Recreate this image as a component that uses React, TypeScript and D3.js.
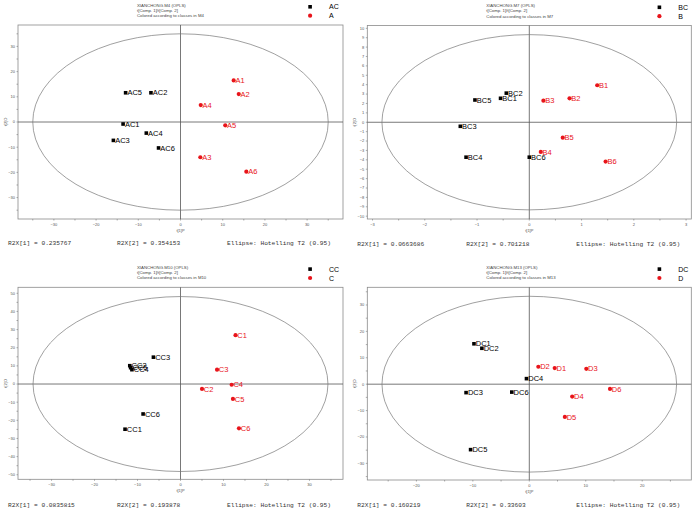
import React from 'react';
import * as d3 from 'd3';

type Pt = { id: string; t1: number; t2: number };

// scores
const m4Control: Pt[] = [
  { id: 'AC1', t1: -13.6, t2: -0.8 },
  { id: 'AC2', t1: -7.0, t2: 11.6 },
  { id: 'AC3', t1: -15.9, t2: -7.3 },
  { id: 'AC4', t1: -8.1, t2: -4.4 },
  { id: 'AC5', t1: -13.0, t2: 11.6 },
  { id: 'AC6', t1: -5.2, t2: -10.3 },
];
const m4Treated: Pt[] = [
  { id: 'A1', t1: 12.6, t2: 16.5 },
  { id: 'A2', t1: 13.8, t2: 11.1 },
  { id: 'A3', t1: 4.7, t2: -14.0 },
  { id: 'A4', t1: 4.8, t2: 6.7 },
  { id: 'A5', t1: 10.6, t2: -1.3 },
  { id: 'A6', t1: 15.6, t2: -19.7 },
];
const m7Control: Pt[] = [
  { id: 'BC1', t1: -0.55, t2: 2.55 },
  { id: 'BC2', t1: -0.44, t2: 3.1 },
  { id: 'BC3', t1: -1.32, t2: -0.43 },
  { id: 'BC4', t1: -1.21, t2: -3.72 },
  { id: 'BC5', t1: -1.04, t2: 2.37 },
  { id: 'BC6', t1: 0.0, t2: -3.72 },
];
const m7Treated: Pt[] = [
  { id: 'B1', t1: 1.3, t2: 3.94 },
  { id: 'B2', t1: 0.77, t2: 2.55 },
  { id: 'B3', t1: 0.27, t2: 2.3 },
  { id: 'B4', t1: 0.22, t2: -3.16 },
  { id: 'B5', t1: 0.64, t2: -1.64 },
  { id: 'B6', t1: 1.46, t2: -4.19 },
];
const m10Control: Pt[] = [
  { id: 'CC1', t1: -12.9, t2: -24.9 },
  { id: 'CC2', t1: -11.8, t2: 10.1 },
  { id: 'CC3', t1: -6.3, t2: 14.8 },
  { id: 'CC4', t1: -11.3, t2: 7.9 },
  { id: 'CC5', t1: -11.6, t2: 9.0 },
  { id: 'CC6', t1: -8.7, t2: -16.5 },
];
const m10Treated: Pt[] = [
  { id: 'C1', t1: 12.8, t2: 26.9 },
  { id: 'C2', t1: 5.0, t2: -2.7 },
  { id: 'C3', t1: 8.5, t2: 7.9 },
  { id: 'C4', t1: 11.9, t2: -0.4 },
  { id: 'C5', t1: 12.2, t2: -8.2 },
  { id: 'C6', t1: 13.6, t2: -24.4 },
];
const m13Control: Pt[] = [
  { id: 'DC1', t1: -9.8, t2: 15.3 },
  { id: 'DC2', t1: -8.4, t2: 13.6 },
  { id: 'DC3', t1: -11.2, t2: -3.2 },
  { id: 'DC4', t1: -0.5, t2: 2.1 },
  { id: 'DC5', t1: -10.4, t2: -24.8 },
  { id: 'DC6', t1: -3.1, t2: -3.0 },
];
const m13Treated: Pt[] = [
  { id: 'D1', t1: 4.5, t2: 6.1 },
  { id: 'D2', t1: 1.6, t2: 6.6 },
  { id: 'D3', t1: 10.1, t2: 5.8 },
  { id: 'D4', t1: 7.6, t2: -4.7 },
  { id: 'D5', t1: 6.3, t2: -12.4 },
  { id: 'D6', t1: 14.3, t2: -1.8 },
];

const modelNames = ['M4', 'M7', 'M10', 'M13'];
const controlClasses = ['AC', 'BC', 'CC', 'DC'];
const treatedClasses = ['A', 'B', 'C', 'D'];
const r2x1 = ['0.235767', '0.0663686', '0.0835815', '0.160219'];
const r2x2 = ['0.354153', '0.701218', '0.193878', '0.33603'];
// Hotelling T2 (0.95) semi-axes
const ellipseT1 = [35, 2.82, 34.3, 26.1];
const ellipseT2 = [35, 9.33, 48.2, 33.3];
// axis ranges and tick steps
const xRanges: [number, number][] = [[-38.5, 38.5], [-3.1, 3.1], [-37.8, 37.8], [-28.7, 28.7]];
const yRanges: [number, number][] = [[-38.5, 38.5], [-10.3, 10.3], [-52.5, 53.3], [-36.3, 36.7]];
const xTickValues = [
  [-30, -20, -10, 0, 10, 20, 30],
  [-3, -2, -1, 0, 1, 2, 3],
  [-30, -20, -10, 0, 10, 20, 30],
  [-20, -10, 0, 10, 20],
];
const yTickValues = [
  [-30, -20, -10, 0, 10, 20, 30],
  [-10, -9, -8, -7, -6, -5, -4, -3, -2, -1, 0, 1, 2, 3, 4, 5, 6, 7, 8, 9, 10],
  [-50, -40, -30, -20, -10, 0, 10, 20, 30, 40, 50],
  [-30, -20, -10, 0, 10, 20, 30],
];
const controls = [m4Control, m7Control, m10Control, m13Control];
const treateds = [m4Treated, m7Treated, m10Treated, m13Treated];

const frames = [
  { left: 18, top: 25, w: 325, h: 194 },
  { left: 367.3, top: 25.5, w: 324, h: 193.5 },
  { left: 18, top: 287.3, w: 325, h: 192 },
  { left: 367.3, top: 287.3, w: 324, h: 192.7 },
];

const sans = "Liberation Sans, Arial, sans-serif";
const mono = "Liberation Mono, Courier New, monospace";

function minorTicks(major: number[], dom: [number, number]) {
  const step = major[1] - major[0];
  const out: number[] = [];
  for (const v of major) {
    out.push(v);
    out.push(v + step / 2);
    out.push(v - step / 2);
  }
  return Array.from(new Set(out.map((v) => +v.toFixed(4)))).filter((v) => v >= dom[0] && v <= dom[1]);
}

const Panel: React.FC<{ i: number }> = ({ i }) => {
  const f = frames[i];
  const x = d3.scaleLinear().domain(xRanges[i]).range([f.left, f.left + f.w]);
  const y = d3.scaleLinear().domain(yRanges[i]).range([f.top + f.h, f.top]);
  const x0 = x(0);
  const y0 = y(0);
  const rx = x(ellipseT1[i]) - x0;
  const ry = y0 - y(ellipseT2[i]);
  const xt = xTickValues[i];
  const yt = yTickValues[i];
  const xMinor = minorTicks(xt, xRanges[i]);
  const yMinor = i === 1 ? yt : minorTicks(yt, yRanges[i]);
  const bottom = f.top + f.h;
  const cx = f.left + f.w / 2;
  const fmt = d3.format('d');

  return (
    <g>
      {/* header */}
      <g fontFamily={sans} fontSize={4.3} fill="#444">
        <text x={f.left + 119} y={f.top - 18.5}>{`XIANCHONG.${modelNames[i]} (OPLS)`}</text>
        <text x={f.left + 119} y={f.top - 13.5}>t[Comp. 1]/t[Comp. 2]</text>
        <text x={f.left + 119} y={f.top - 8}>{`Colored according to classes in ${modelNames[i]}`}</text>
      </g>
      {/* legend */}
      <rect x={f.left + 290.3} y={f.top - 20} width={3.6} height={3.6} fill="#000" />
      <circle cx={f.left + 292.1} cy={f.top - 9.3} r={2.1} fill="#e8141b" />
      <g fontFamily={sans} fontSize={7} fill="#000">
        <text x={f.left + 311} y={f.top - 15.8}>{controlClasses[i]}</text>
        <text x={f.left + 311} y={f.top - 6.8}>{treatedClasses[i]}</text>
      </g>
      {/* frame */}
      <rect x={f.left} y={f.top} width={f.w} height={f.h} fill="none" stroke="#8a8a8a" strokeWidth={0.8} />
      <line x1={f.left} x2={f.left + f.w} y1={y0} y2={y0} stroke="#555" strokeWidth={0.8} />
      <line x1={x0} x2={x0} y1={f.top} y2={bottom} stroke="#555" strokeWidth={0.8} />
      {/* ticks */}
      {xMinor.map((v) => (
        <line key={`xm${v}`} x1={x(v)} x2={x(v)} y1={bottom} y2={bottom + 1.5} stroke="#777" strokeWidth={0.6} />
      ))}
      {yMinor.map((v) => (
        <line key={`ym${v}`} x1={f.left - 1.5} x2={f.left} y1={y(v)} y2={y(v)} stroke="#777" strokeWidth={0.6} />
      ))}
      <g fontFamily={sans} fontSize={4} fill="#555">
        {xt.map((v) => (
          <text key={`xl${v}`} x={x(v)} y={bottom + 6.5} textAnchor="middle">{fmt(v)}</text>
        ))}
        {yt.map((v) => (
          <text key={`yl${v}`} x={f.left - 3} y={y(v) + 1.4} textAnchor="end">{fmt(v)}</text>
        ))}
        <text x={cx} y={bottom + 12.5} textAnchor="middle">t[1]P</text>
        <text transform={`translate(${f.left - 11},${f.top + f.h / 2}) rotate(-90)`} textAnchor="middle">t[2]O</text>
      </g>
      {/* Hotelling ellipse */}
      <ellipse cx={x0} cy={y0} rx={rx} ry={ry} fill="none" stroke="#777" strokeWidth={0.7} />
      {/* control points */}
      {controls[i].map((p) => (
        <g key={p.id}>
          <rect x={x(p.t1) - 1.8} y={y(p.t2) - 1.8} width={3.6} height={3.6} fill="#000" />
          <text x={x(p.t1) + 1.8} y={y(p.t2) + 2.6} fontFamily={sans} fontSize={7.5} fill="#000">{p.id}</text>
        </g>
      ))}
      {/* treated points */}
      {treateds[i].map((p) => (
        <g key={p.id}>
          <circle cx={x(p.t1)} cy={y(p.t2)} r={2.1} fill="#e8141b" />
          <text x={x(p.t1) + 1.8} y={y(p.t2) + 2.6} fontFamily={sans} fontSize={7.5} fill="#e8141b">{p.id}</text>
        </g>
      ))}
      {/* footer */}
      <g fontFamily={mono} fontSize={6.2} fill="#333">
        <text x={f.left - 10} y={f.top + 220}>{`R2X[1] = ${r2x1[i]}`}</text>
        <text x={f.left + 99} y={f.top + 220}>{`R2X[2] = ${r2x2[i]}`}</text>
        <text x={f.left + 209} y={f.top + 220}>Ellipse: Hotelling T2 (0.95)</text>
      </g>
    </g>
  );
};

export default function App() {
  return (
    <svg width={697} height={514} style={{ position: 'absolute', left: 0, top: 0, background: '#fff' }}>
      <rect width={697} height={514} fill="#fff" />
      {[0, 1, 2, 3].map((i) => (
        <Panel key={i} i={i} />
      ))}
    </svg>
  );
}
